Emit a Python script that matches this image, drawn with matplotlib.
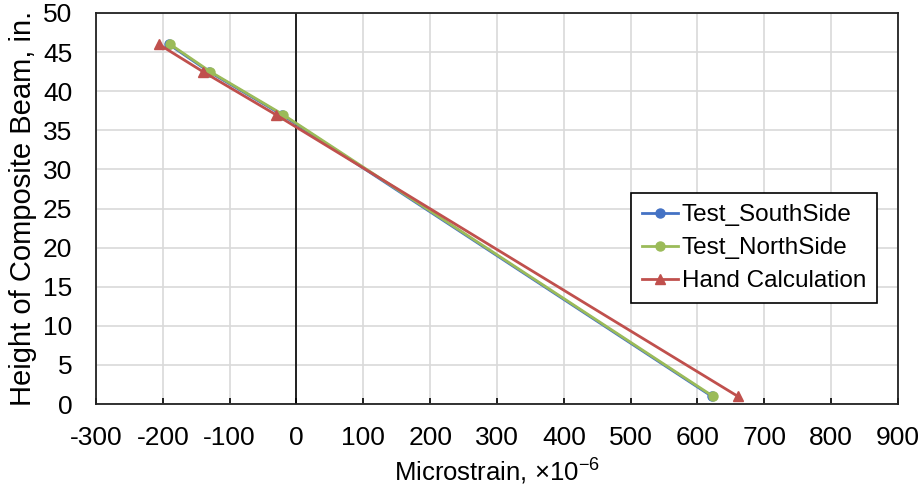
import numpy as np
import matplotlib
matplotlib.use("Agg")
import matplotlib.pyplot as plt

plt.rcParams['font.family'] = ['Liberation Sans', 'DejaVu Sans']
plt.rcParams['mathtext.fontset'] = 'custom'
plt.rcParams['mathtext.rm'] = 'Liberation Sans'
plt.rcParams['mathtext.it'] = 'Liberation Sans'
plt.rcParams['axes.unicode_minus'] = False

# data
height = [46, 42.5, 37, 1]
south_strain = [-191, -131, -22, 621]
north_strain = [-189, -129, -20, 623]
hand_strain = [-206, -140, -31, 660]

x_ticks = list(range(-300, 901, 100))
y_ticks = list(range(0, 51, 5))

fig = plt.figure(figsize=(9.2, 4.93), dpi=100)
ax = fig.add_axes([96/920, 1-404/493, 802/920, 391/493])

ax.plot(south_strain, height, color='#4472C4', marker='o', markersize=6.5, lw=2, label='Test_SouthSide')
ax.plot(north_strain, height, color='#9BBB59', marker='o', markersize=6.5, lw=2, label='Test_NorthSide')
ax.plot(hand_strain, height, color='#C0504D', marker='^', markersize=7.5, lw=2, label='Hand Calculation')

ax.axvline(0, color='black', lw=1.2, zorder=1.5)

ax.set_xlim(-300, 900)
ax.set_ylim(0, 50)
ax.set_xticks(x_ticks)
ax.set_yticks(y_ticks)
ax.grid(True, color='#D9D9D9', lw=1.2)
ax.set_axisbelow(True)
ax.tick_params(axis='x', direction='in', length=4, width=1.2, labelsize=19, pad=16)
ax.tick_params(axis='y', length=0, labelsize=19, pad=17)
for s in ax.spines.values():
    s.set_color('#222222')
    s.set_linewidth(1.3)

ax.set_xlabel(r"Microstrain, ×10$^{\mathregular{-6}}$", fontsize=18.5, labelpad=5)
ax.set_ylabel("Height of Composite Beam, in.", fontsize=21, labelpad=4)

leg = ax.legend(loc='lower right', bbox_to_anchor=(0.974, 0.258), fontsize=17.5,
                handlelength=1.5, handletextpad=0.15, fancybox=False,
                edgecolor='black', framealpha=1, borderpad=0.45, labelspacing=0.45,
                borderaxespad=0)
leg.get_frame().set_linewidth(1.2)

fig.savefig('out.png', dpi=100)
